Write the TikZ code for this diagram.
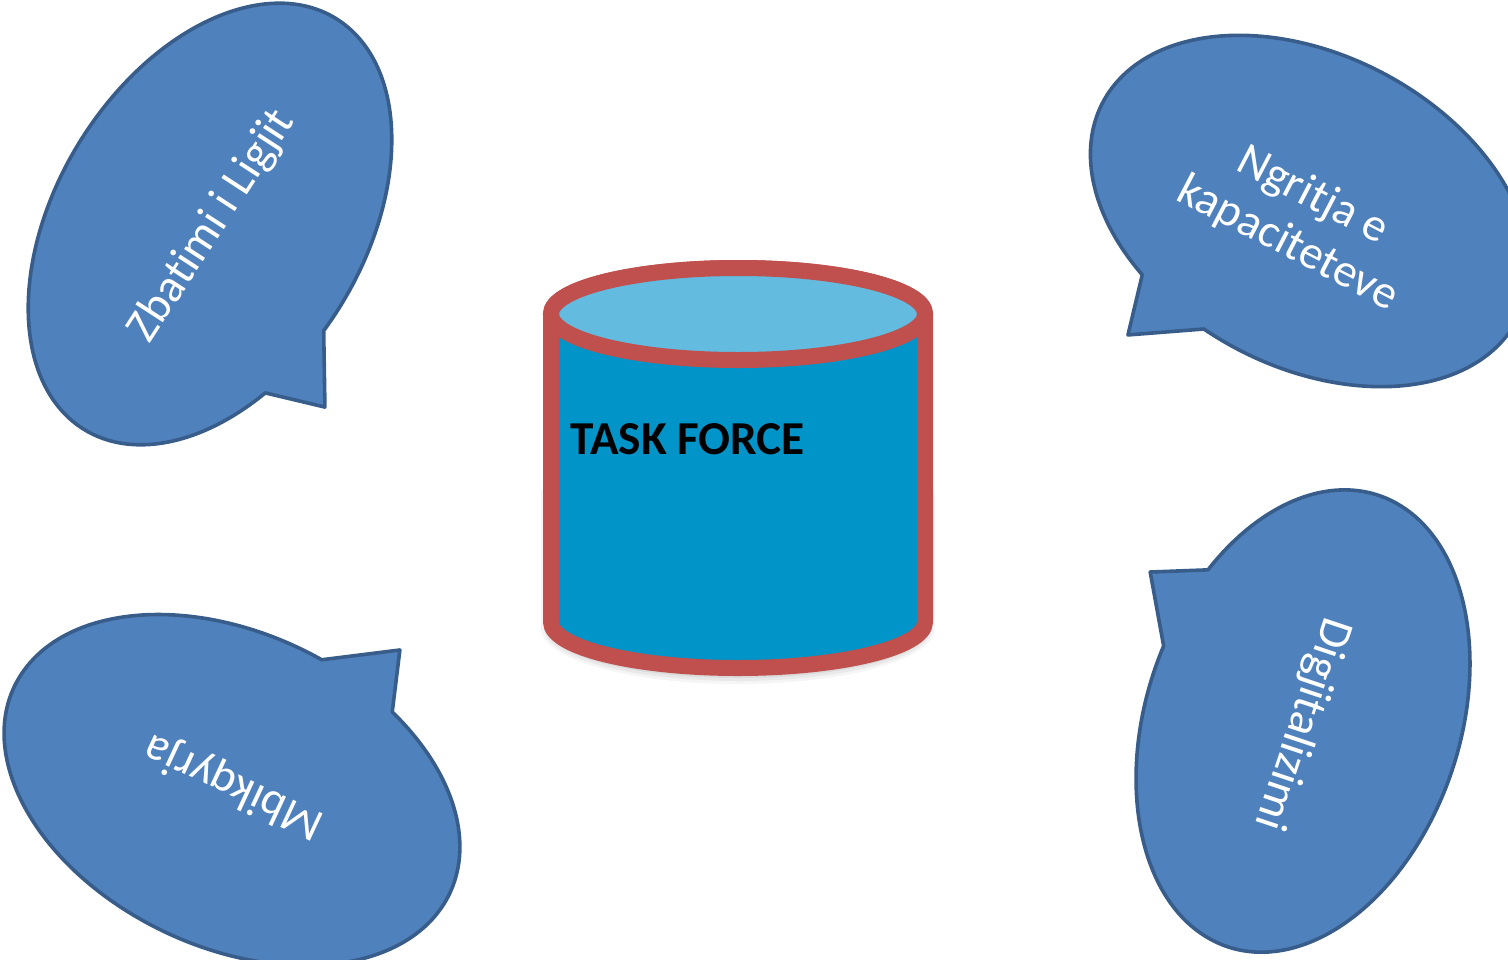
\documentclass[tikz,border=0pt]{standalone}
\usepackage{fontspec}
\setmainfont{Carlito}[Ligatures=NoCommon, RawFeature=-liga]
\usepackage{tikz}
\definecolor{bubfill}{HTML}{4F81BD}
\definecolor{bubline}{HTML}{385D8A}
\definecolor{cylred}{HTML}{C0504D}
\definecolor{cylbody}{HTML}{0094C9}
\definecolor{cyltop}{HTML}{63BCE0}
\tikzset{
  bubble/.style={draw=bubline, line width=1.8pt, fill=bubfill, line join=round},
  bubtext/.style={text=white, font=\fontsize{23.5}{27}\selectfont, align=center},
  cylside/.style={draw=cylred, line width=8pt, fill=cylbody, line join=round},
  cyllid/.style={draw=cylred, line width=8pt, fill=cyltop},
  tftext/.style={text=black, font=\bfseries\fontsize{23.6}{28}\selectfont}
}

\begin{document}
\begin{tikzpicture}[x=0.5pt, y=0.5pt]
  \useasboundingbox (0,0) rectangle (1508,-959);
  \clip (0,0) rectangle (1508,-959);

  % cylinder in the middle
  \def\cx{738}
  \def\rx{187}
  \def\ry{46}
  \coordinate (top) at (\cx,-314);
  \coordinate (bot) at (\cx,-622);

  % soft shadow under the cylinder
  \foreach \s/\o in {10/0.04, 7/0.05, 4/0.06, 1/0.07}
    \fill[black, opacity=\o] (\cx-\rx-\s,-490) -- (\cx-\rx-\s,-628)
      arc[start angle=180, end angle=360, x radius=\rx+\s, y radius=\ry+\s]
      -- (\cx+\rx+\s,-490) -- cycle;

  \draw[cylside] (\cx-\rx,-314) -- (\cx-\rx,-622)
    arc[start angle=180, end angle=360, x radius=\rx, y radius=\ry]
    -- (\cx+\rx,-314)
    arc[start angle=0, end angle=180, x radius=\rx, y radius=\ry] -- cycle;
  \draw[cyllid] (top) ellipse [x radius=\rx, y radius=\ry];

  \node[tftext, anchor=base west, inner sep=0pt] (tf) at (570,-454) {TASK FORCE};

  % speech bubbles, one rotated scope each
  \begin{scope}[shift={(210,-224)}, rotate=58.6]
    \draw[bubble] (-97.6:241 and 154)
      arc[start angle=-97.6, end angle=241.4, x radius=241, y radius=154]
      -- (-96.4,-193.5) -- cycle;
  \end{scope}
  \node[bubtext, rotate=57] (law) at (212,-226) {Zbatimi i Ligjit};

  \begin{scope}[shift={(1310,-211)}, rotate=-27.6]
    \draw[bubble] (-99.7:234 and 156)
      arc[start angle=-99.7, end angle=239.4, x radius=234, y radius=156]
      -- (-103.9,-194.2) -- cycle;
  \end{scope}
  \node[bubtext, rotate=-27.5] (cap) at (1300,-220) {Ngritja e\\kapaciteteve};

  \begin{scope}[shift={(232,-790)}, rotate=-25.4]
    \draw[bubble] (84:241 and 157)
      arc[start angle=84, end angle=422.5, x radius=241, y radius=157]
      -- (91.6,198.5) -- cycle;
  \end{scope}
  \node[bubtext, rotate=155] (sup) at (234,-786) {Mbikqyrja};

  \begin{scope}[shift={(1303,-721)}, rotate=71.5]
    \draw[bubble] (83.5:238 and 157)
      arc[start angle=83.5, end angle=421.6, x radius=238, y radius=157]
      -- (92.8,192.2) -- cycle;
  \end{scope}
  \node[bubtext, rotate=-108.5] (dig) at (1302,-724) {Digjitalizimi};
\end{tikzpicture}
\end{document}
